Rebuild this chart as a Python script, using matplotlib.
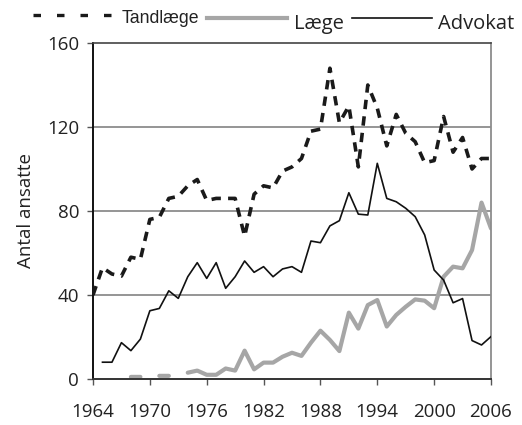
import numpy as np
import matplotlib
matplotlib.use("Agg")
import matplotlib.pyplot as plt
from matplotlib.lines import Line2D

# yearly values
years = list(range(1964, 2007))
tandlaege = [40, 53, 50, 49, 58, 57, 76, 77, 86, 87,
             92, 95, 85, 86, 86, 86, 68, 88, 92, 91,
             99, 101, 105, 118, 119, 148, 122, 130, 101, 140,
             129, 111, 126, 117, 113, 103, 104, 125, 108, 115,
             100, 105, 105]
laege = [np.nan, np.nan, np.nan, np.nan, 1, 1, np.nan, 1.5, 1.5, np.nan,
         3, 4, 2, 2, 5, 4, 13.5, 4.6, 7.8, 7.8,
         10.6, 12.5, 11, 17.3, 23, 18.6, 13.3, 31.6, 24, 35.2,
         37.6, 25, 30.5, 34.4, 37.9, 37.3, 33.7, 48.7, 53.5, 52.7,
         61.4, 84, 71.7]
advokat = [np.nan, 8, 8, 17.3, 13.5, 19, 32.5, 33.6, 42, 38.4,
           48.7, 55.4, 47.9, 55.4, 43.2, 48.7, 56.2, 50.8, 53.5, 48.7,
           52.4, 53.5, 50.8, 65.7, 64.9, 72.9, 75.4, 88.7, 78.5, 78.1,
           102.7, 86, 84.4, 81.3, 77.3, 68.6, 51.9, 47.1, 36.3, 38.3,
           18.3, 16.2, 20.2]
xticks = [1964, 1970, 1976, 1982, 1988, 1994, 2000, 2006]
yticks = [0, 40, 80, 120, 160]

W, H = 522, 425
fig = plt.figure(figsize=(W / 100, H / 100), dpi=100)
ax = fig.add_axes([93 / W, 1 - 379 / H, 398 / W, 336 / H])

for v in yticks[1:-1]:
    ax.axhline(v, color="#8c8c8c", lw=1.3, zorder=1)

ax.plot(years, tandlaege, color="#1a1a1a", lw=2.6,
        dashes=(2.6, 2.0), zorder=3)
ax.plot(years, laege, color="#a6a6a6", lw=3.0,
        solid_capstyle="round", zorder=2)
ax.plot(years, advokat, color="#111111", lw=1.2, zorder=3)

ax.set_xlim(1964, 2006)
ax.set_ylim(0, 160)
ax.set_xticks(xticks)
ax.set_yticks(yticks)

tick_font = "Open Sans"
ax.set_xticklabels([str(t) for t in xticks], fontsize=13.5, family=tick_font,
                   color="#222222")
ax.set_yticklabels([str(t) for t in yticks], fontsize=13.5, family=tick_font,
                   color="#222222")
ax.tick_params(axis="x", direction="out", length=4, width=1, color="#555555", pad=13)
ax.tick_params(axis="y", direction="out", length=4, width=1, color="#555555", pad=6)

ax.spines["left"].set_color("#111111")
ax.spines["left"].set_linewidth(1.4)
ax.spines["bottom"].set_color("#333333")
ax.spines["bottom"].set_linewidth(1.4)
ax.spines["right"].set_color("#8c8c8c")
ax.spines["right"].set_linewidth(1.3)
ax.spines["top"].set_color("#444444")
ax.spines["top"].set_linewidth(1.2)

ax.set_ylabel("Antal ansatte", fontsize=13.5, family=tick_font, color="#222222")
ax.yaxis.set_label_coords(-0.146, 0.5)

# legend row above the plot, laid out like the original
def fx(px):
    return px / W

def fy(py):
    return 1 - py / H

fig.add_artist(Line2D([fx(33), fx(112)], [fy(15), fy(15)], color="#1a1a1a",
                      lw=2.4, dashes=(2.25, 4.8), transform=fig.transFigure))
fig.text(fx(122), fy(23), "Tandlæge", family="Liberation Sans", fontsize=12.7,
         color="#222222", va="baseline", ha="left")
fig.add_artist(Line2D([fx(207), fx(287)], [fy(18), fy(18)], color="#a6a6a6",
                      lw=3.0, transform=fig.transFigure))
fig.text(fx(294), fy(29), "Læge", family=tick_font, fontsize=14.5,
         color="#222222", va="baseline", ha="left")
fig.add_artist(Line2D([fx(352), fx(432)], [fy(18), fy(18)], color="#111111",
                      lw=1.2, transform=fig.transFigure))
fig.text(fx(438), fy(29), "Advokat", family=tick_font, fontsize=14.5,
         color="#222222", va="baseline", ha="left")

fig.savefig("out.png", dpi=100)
